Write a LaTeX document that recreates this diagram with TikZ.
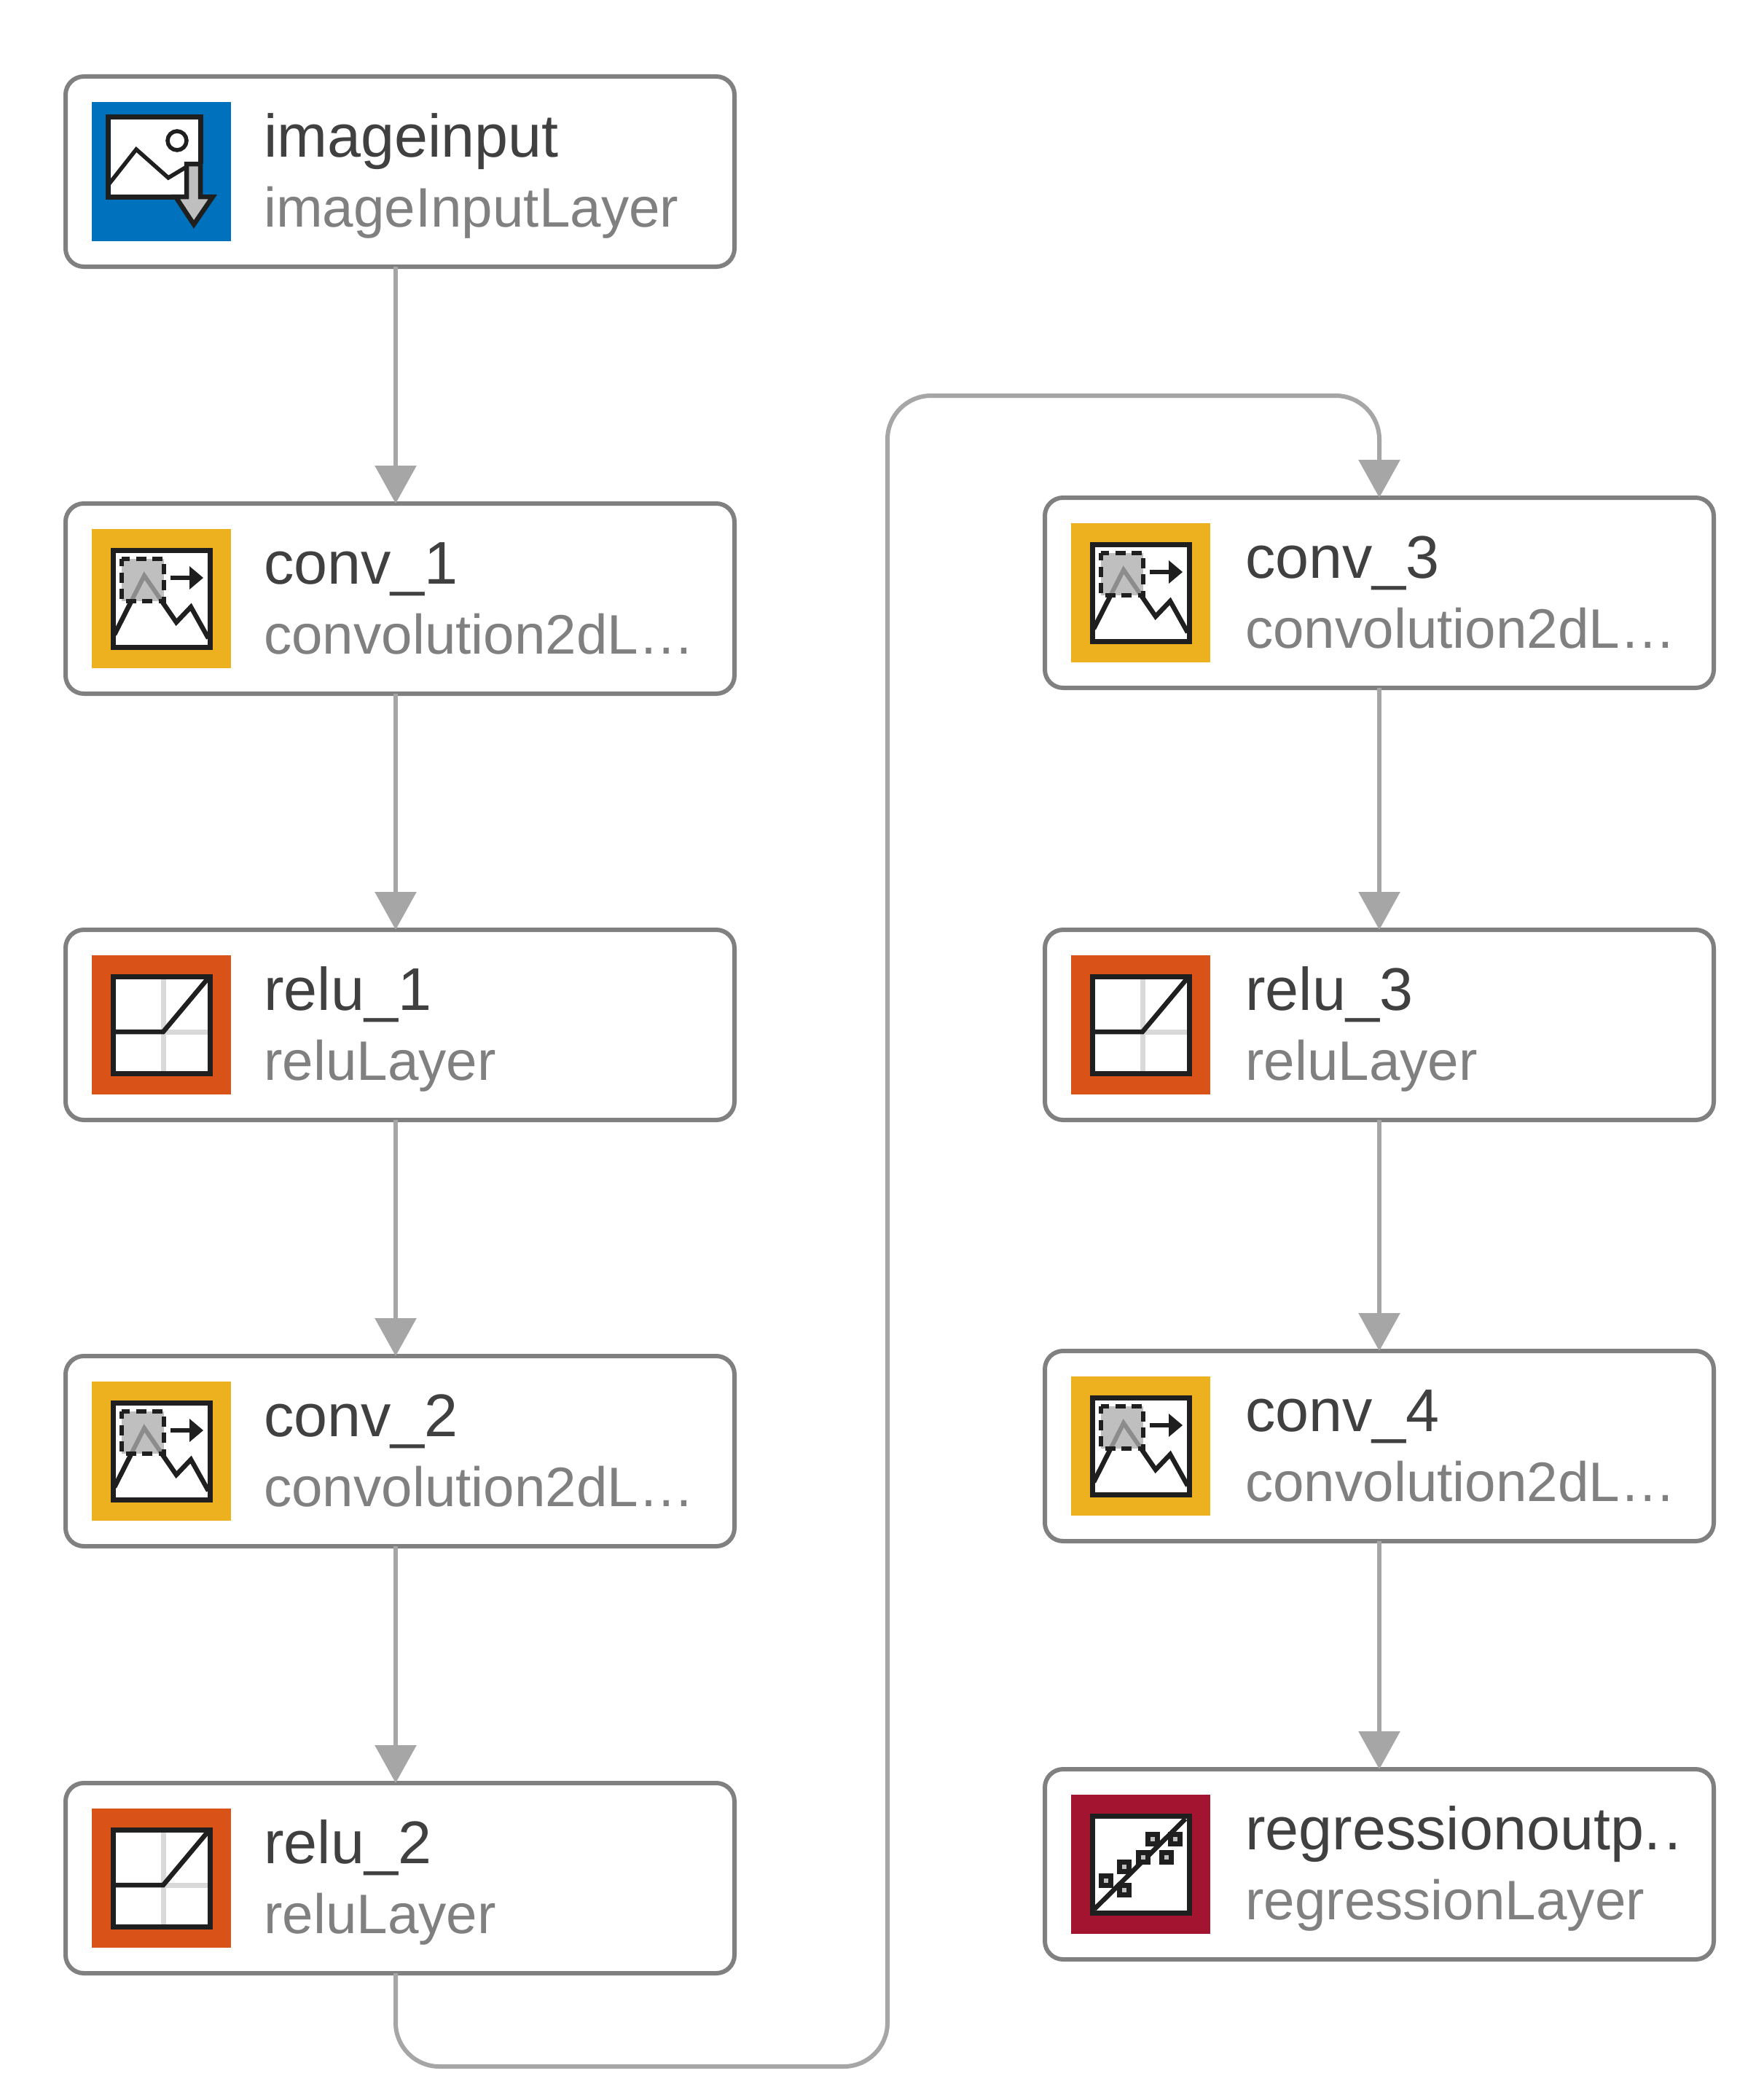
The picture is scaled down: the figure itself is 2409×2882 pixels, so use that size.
\documentclass[tikz,border=0pt]{standalone}
\usepackage{fontspec}
\setmainfont{Liberation Sans}
\usetikzlibrary{arrows.meta}
\definecolor{cblue}{HTML}{0072BD}
\definecolor{cyel}{HTML}{EDB120}
\definecolor{corg}{HTML}{D95319}
\definecolor{cred}{HTML}{A2142F}
\definecolor{ink}{HTML}{1F1F1F}
\definecolor{fillg}{HTML}{BFBFBF}
\definecolor{conn}{HTML}{A6A6A6}
\tikzset{
  layerbox/.style={draw=black!50,line width=6pt,rounded corners=25pt,fill=white,minimum width=918pt,minimum height=261pt,inner sep=0pt,outer sep=0pt},
  titletext/.style={anchor=base west,inner sep=0pt,text=black!75,font=\fontsize{82.7}{90}\selectfont},
  subtext/.style={anchor=base west,inner sep=0pt,text=black!50,font=\fontsize{76.4}{84}\selectfont},
  link/.style={draw=conn,line width=6pt,-{Triangle[width=56pt,length=52pt,fill=conn]}},
  frame/.style={draw=ink,line width=7pt,miter limit=10},
  inkline/.style={draw=ink,line width=6.5pt,line join=miter},
}
% icons: 191 x 191, origin at the top left corner
\newcommand{\iconback}[1]{\fill[#1] (0,0) rectangle (191,191);\fill[white] (29,29) rectangle (162,162);}
\newcommand{\iconframe}{\draw[frame] (29,29) rectangle (162,162);}
\newcommand{\iconinput}{
  \fill[cblue] (0,0) rectangle (191,191);
  \fill[white] (22,21) rectangle (149,130);
  \draw[inkline,line width=5.5pt] (24,112) -- (61,65) -- (105,104) -- (130,89);
  \draw[ink,line width=5.5pt] (117,53) circle (13);
  \draw[frame] (127,130) -- (22,130) -- (22,21) -- (149,21) -- (149,85);
  \draw[inkline,fill=fillg,line join=miter] (130,85) -- (149,85) -- (149,130) -- (166,130) -- (140,168) -- (115,130) -- (130,130) -- cycle;
}
\newcommand{\iconconv}{
  \iconback{cyel}
  \draw[inkline] (31,145) -- (72,64) -- (116,128) -- (136,107) -- (160,150);
  \fill[fillg] (41,41) rectangle (99,99);
  \begin{scope}
    \clip (41,41) rectangle (99,99);
    \draw[draw=black!45,line width=6pt] (31,145) -- (72,64) -- (116,128);
  \end{scope}
  \draw[inkline,dash pattern=on 14pt off 8.5pt,dash phase=4pt] (41,41) rectangle (99,99);
  \draw[inkline] (108,67) -- (136,67);
  \fill[ink] (134,51) -- (153,67) -- (134,83) -- cycle;
  \iconframe
}
\newcommand{\iconrelu}{
  \iconback{corg}
  \draw[black!15,line width=7pt] (98,29) -- (98,162);
  \draw[black!15,line width=7pt] (98,105) -- (162,105);
  \draw[inkline] (29,105) -- (98,105) -- (160,31);
  \iconframe
}
\newcommand{\pt}[2]{\draw[inkline,fill=fillg] (#1-6.5,#2-6.5) rectangle (#1+6.5,#2+6.5);}
\newcommand{\iconreg}{
  \iconback{cred}
  \draw[inkline] (32,157) -- (157,33);
  \pt{48}{118}\pt{73}{99}\pt{73}{131}\pt{99}{86}\pt{112}{61}\pt{131}{86}\pt{143}{61}
  \iconframe
}
% \layer{id}{left}{top}{icon}{title}{subtitle}{text left}{icon left}
\newcommand{\layer}[8]{
  \node[layerbox] (#1) at (#2+459,#3+130.5) {};
  \begin{scope}[shift={(#2+#8,#3+35)}]#4\end{scope}
  \node[titletext] (#1-t) at (#2+#7,#3+110) {#5};
  \node[subtext] (#1-s) at (#2+#7,#3+206) {#6};
}
\begin{document}
\begin{tikzpicture}[x=1pt,y=-1pt]
\useasboundingbox (0,0) rectangle (2409,2882);
\fill[white] (0,0) rectangle (2409,2882);
% connectors
\path coordinate (loopA) at (543,2836) coordinate (loopB) at (1218,2836)
      coordinate (loopC) at (1218,543) coordinate (loopD) at (1893,543);
\layer{imageinput}{90}{105}{\iconinput}{imageinput}{imageInputLayer}{272}{36}
\layer{conv1}{90}{691}{\iconconv}{conv\_1}{convolution2dL…}{272}{36}
\layer{relu1}{90}{1276}{\iconrelu}{relu\_1}{reluLayer}{272}{36}
\layer{conv2}{90}{1861}{\iconconv}{conv\_2}{convolution2dL…}{272}{36}
\layer{relu2}{90}{2447}{\iconrelu}{relu\_2}{reluLayer}{272}{36}
\layer{conv3}{1434}{683}{\iconconv}{conv\_3}{convolution2dL…}{275}{36}
\layer{relu3}{1434}{1276}{\iconrelu}{relu\_3}{reluLayer}{275}{36}
\layer{conv4}{1434}{1854}{\iconconv}{conv\_4}{convolution2dL…}{275}{36}
\layer{regout}{1434}{2428}{\iconreg}{regressionoutp.\kern5pt.}{regressionLayer}{275}{36}
\draw[link] ([xshift=-6pt]imageinput.south) -- ([xshift=-6pt]conv1.north);
\draw[link] ([xshift=-6pt]conv1.south) -- ([xshift=-6pt]relu1.north);
\draw[link] ([xshift=-6pt]relu1.south) -- ([xshift=-6pt]conv2.north);
\draw[link] ([xshift=-6pt]conv2.south) -- ([xshift=-6pt]relu2.north);
\draw[link,rounded corners=60pt] ([xshift=-6pt]relu2.south) -- (loopA) -- (loopB) -- (loopC) -- (loopD) -- (conv3.north);
\draw[link] (conv3.south) -- (relu3.north);
\draw[link] (relu3.south) -- (conv4.north);
\draw[link] (conv4.south) -- (regout.north);
\end{tikzpicture}
\end{document}
